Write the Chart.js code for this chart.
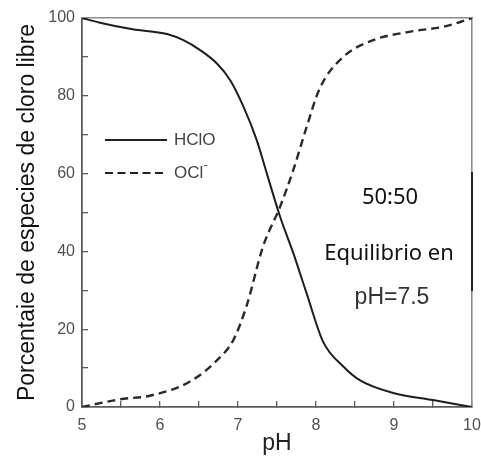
<!DOCTYPE html>
<html>
<head>
<meta charset="utf-8">
<script src="https://cdn.jsdelivr.net/npm/chart.js@4/dist/chart.umd.min.js"></script>
<style>
html,body{margin:0;padding:0;background:#fff;}
canvas{display:block;}
</style>
</head>
<body>
<canvas id="c" width="481" height="458" style="width:481px;height:458px"></canvas>
<script>
// ---- data ----
const phHClO = [5, 5.23, 5.65, 6.09, 6.3, 6.51, 6.73, 6.9, 7.07, 7.24, 7.37, 7.54, 7.71, 7.88, 8.09, 8.35, 8.56, 8.99, 9.5, 10];
const hclo   = [100, 98.8, 97.1, 95.9, 94.3, 91.8, 88.3, 84, 77.2, 68.6, 60, 48.9, 39.5, 29.2, 16.8, 10.4, 6.9, 3.6, 1.8, 0];
const phOCl  = [5, 5.49, 5.87, 6.38, 6.73, 6.94, 7.11, 7.32, 7.54, 7.71, 7.88, 8.05, 8.35, 8.73, 9.21, 9.67, 10];
const ocl    = [0, 2, 2.9, 6.5, 12, 17.2, 26, 41.2, 51.5, 61, 72, 82, 90, 94.3, 96.5, 97.9, 100];
const xTicks = [5, 6, 7, 8, 9, 10];
const xMinor = [5.5, 6.5, 7.5, 8.5, 9.5];
const yTicks = [0, 20, 40, 60, 80, 100];
const yMinor = [10, 30, 50, 70, 90];
const seriesNames = ['HClO', 'OCl'];
const xTitle = 'pH';
const yTitle = 'Porcentaie de especies de cloro libre';
const noteLines = ['50:50', 'Equilibrio en', 'pH=7.5'];

const toPts = (xs, ys) => xs.map((x, i) => ({x: x, y: ys[i]}));
const allTicks = (major, minor) => major.concat(minor).sort((p, q) => p - q).map(v => ({value: v}));
const FONT = '"Liberation Sans", Arial, sans-serif';

const decor = {
  id: 'framedecor',
  afterDraw(chart) {
    const ctx = chart.ctx;
    const a = chart.chartArea;
    const sy = chart.scales.y;
    ctx.save();
    // darker segment on right border
    const s1 = Math.round(sy.getPixelForValue(60.5)), s2 = Math.round(sy.getPixelForValue(29.7));
    ctx.fillStyle = '#222';
    ctx.fillRect(Math.round(a.right) - 1, s1, 2, s2 - s1);
    // legend
    ctx.strokeStyle = '#222';
    ctx.lineWidth = 2;
    ctx.beginPath(); ctx.moveTo(105, 140); ctx.lineTo(167, 140); ctx.stroke();
    ctx.setLineDash([8, 4.5]);
    ctx.lineWidth = 2.2;
    ctx.beginPath(); ctx.moveTo(105, 173); ctx.lineTo(164, 173); ctx.stroke();
    ctx.setLineDash([]);
    ctx.fillStyle = '#444';
    ctx.font = '17px ' + FONT;
    ctx.textBaseline = 'middle';
    ctx.textAlign = 'left';
    ctx.fillText(seriesNames[0], 174, 140);
    ctx.fillText(seriesNames[1], 174, 173);
    const w = ctx.measureText(seriesNames[1]).width;
    ctx.font = '12px ' + FONT;
    ctx.fillText('-', 174 + w + 0.5, 166);
    // annotation
    ctx.fillStyle = '#111';
    ctx.textAlign = 'center';
    ctx.font = '22px "Noto Sans", "Open Sans", sans-serif';
    ctx.fillText(noteLines[0], 390, 198);
    ctx.fillText(noteLines[1], 389, 254);
    ctx.fillStyle = '#333';
    ctx.font = '23px ' + FONT;
    ctx.fillText(noteLines[2], 392, 298);
    ctx.restore();
  }
};

new Chart(document.getElementById('c'), {
  type: 'line',
  data: {
    datasets: [
      {label: seriesNames[0], data: toPts(phHClO, hclo), borderColor: '#1e1e1e', borderWidth: 2,
       pointRadius: 0, fill: false, cubicInterpolationMode: 'monotone', xAxisID: 'x', yAxisID: 'y'},
      {label: seriesNames[1], data: toPts(phOCl, ocl), borderColor: '#2a2a2a', borderWidth: 2.4,
       borderDash: [8, 5], pointRadius: 0, fill: false, cubicInterpolationMode: 'monotone', xAxisID: 'x', yAxisID: 'y'}
    ]
  },
  options: {
    responsive: false,
    animation: false,
    devicePixelRatio: 1,
    layout: {padding: 0},
    plugins: {legend: {display: false}, tooltip: {enabled: false}},
    scales: {
      x: {
        type: 'linear', position: 'bottom', min: 5, max: 10,
        afterBuildTicks: s => { s.ticks = allTicks(xTicks, xMinor); },
        afterFit: s => { s.height = 51; s.paddingLeft = 0; s.paddingRight = 0; },
        grid: {display: true, drawOnChartArea: false, drawTicks: true, tickLength: -6, color: '#5c5c5c', lineWidth: 1.3},
        border: {display: true, color: '#5c5c5c', width: 1.8},
        ticks: {color: '#505050', padding: 15, autoSkip: false, maxRotation: 0,
                callback: v => xTicks.includes(v) ? String(v) : '',
                font: {size: 16, family: FONT}},
        title: {display: true, text: xTitle, color: '#222', padding: {top: 0, bottom: 1},
                font: {size: 23, family: FONT}}
      },
      y: {
        position: 'left', min: 0, max: 100,
        afterBuildTicks: s => { s.ticks = allTicks(yTicks, yMinor); },
        afterFit: s => { s.width = 82; s.paddingTop = 0; s.paddingBottom = 0; },
        grid: {display: true, drawOnChartArea: false, drawTicks: true, tickLength: -6, color: '#5c5c5c', lineWidth: 1.3},
        border: {display: true, color: '#5c5c5c', width: 1.8},
        ticks: {color: '#505050', padding: 13, autoSkip: false,
                callback: v => yTicks.includes(v) ? String(v) : '',
                font: {size: 16, family: FONT}},
        title: {display: true, text: yTitle, color: '#111', padding: {top: 14, bottom: 0},
                font: {size: 23, family: FONT}}
      },
      x2: {
        type: 'linear', position: 'top', min: 5, max: 10,
        afterFit: s => { s.height = 18; s.paddingLeft = 0; s.paddingRight = 0; },
        grid: {display: false, drawTicks: false},
        border: {display: true, color: '#8c8c8c', width: 1.6},
        ticks: {display: false}
      },
      y2: {
        position: 'right', min: 0, max: 100,
        afterFit: s => { s.width = 9; s.paddingTop = 0; s.paddingBottom = 0; },
        grid: {display: false, drawTicks: false},
        border: {display: true, color: '#8c8c8c', width: 1.6},
        ticks: {display: false}
      }
    }
  },
  plugins: [decor]
});
</script>
</body>
</html>
